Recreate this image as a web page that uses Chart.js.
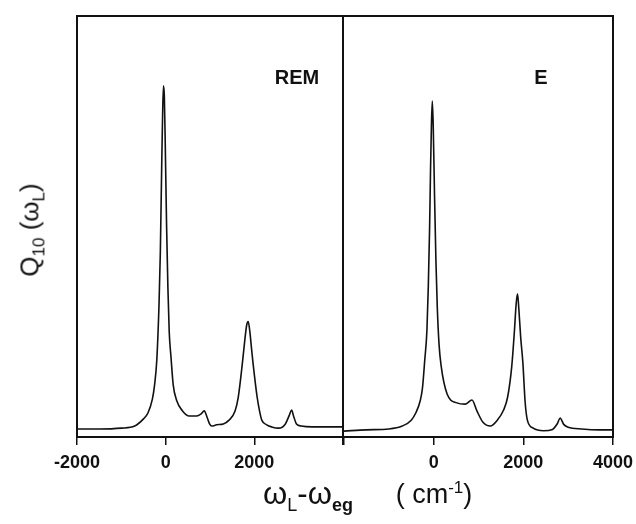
<!DOCTYPE html>
<html>
<head>
    <title>Q10 spectra REM / E</title>
    <meta charset="UTF-8">
    <script src="https://cdn.jsdelivr.net/npm/chart.js@4/dist/chart.umd.min.js"></script>
    <style>
        html, body { margin: 0; background: #fff; overflow: hidden; }
        #wrap { position: relative; width: 636px; height: 524px; overflow: hidden; font-family: 'Liberation Sans', Arial, sans-serif; color: #111; }
        canvas { position: absolute; top: 0; }
        .txt { position: absolute; white-space: nowrap; transform: translate(-50%, -50%); }
    </style>
</head>
<body>
<div id="wrap">
    <canvas id="remChart" width="350" height="524" style="left:0"></canvas>
    <canvas id="eChart" width="310" height="524" style="left:337px"></canvas>
    <div class="txt" style="left:297px;top:77px;font-weight:bold;font-size:20px">REM</div>
    <div class="txt" style="left:541px;top:77px;font-weight:bold;font-size:20px">E</div>
    <div class="txt" style="left:32px;top:230px;font-size:26px;transform:translate(-50%,-50%) rotate(-90deg)">Q<sub style="font-size:17px">10</sub> (ω<sub style="font-size:17px">L</sub>)</div>
    <div class="txt" style="left:308px;top:496px;font-size:31px">ω<sub style="font-size:18px">L</sub>-ω<sub style="font-size:18px;font-weight:bold">eg</sub></div>
    <div class="txt" style="left:434px;top:494px;font-size:27px">( cm<sup style="font-size:17px">-1</sup>)</div>
</div>
<script>
    // x in cm-1, y in arbitrary units (0..100 = full frame height)
    const tickValues = [-2000, 0, 2000, 4000];
    const remTickLabels = ['-2000', '0', '2000', ''];
    const eTickLabels = ['', '0', '2000', '4000'];

    const remX = [-2000, -1500, -1000, -700, -500, -400, -300, -250, -200, -150,
        -120, -90, -70, -50, -30, -10, 20, 50, 80, 120,
        170, 250, 380, 530, 700, 800, 870, 930, 990, 1040,
        1150, 1300, 1430, 1565, 1638, 1728, 1788, 1828, 1862, 1900,
        1933, 1973, 2063, 2123, 2168, 2280, 2391, 2550, 2700, 2790,
        2840, 2890, 2950, 3060, 3300, 3600, 4000];
    const remY = [1.9, 1.9, 2.1, 2.6, 4.3, 5.7, 9.0, 12.4, 18.3, 31.4,
        44, 64, 76, 83.4, 81, 70, 50.6, 35.6, 25, 19,
        12.4, 8.6, 6.2, 5.0, 5.0, 5.5, 6.2, 4.8, 3.1, 2.6,
        2.9, 3.1, 4.0, 6.2, 9.5, 17.3, 23.3, 26.6, 27.4, 24.9,
        21.4, 17.3, 9.5, 5.9, 4.0, 2.9, 2.4, 2.1, 3.1, 5.2,
        6.4, 4.8, 3.1, 2.6, 2.4, 2.4, 2.4];

    const eX = [-2000, -1500, -1000, -700, -500, -400, -300, -250, -200, -150,
        -120, -90, -70, -50, -30, -10, 20, 50, 80, 120,
        165, 300, 520, 700, 855, 965, 1100, 1265, 1420, 1560,
        1650, 1740, 1800, 1840, 1870, 1900, 1940, 1990, 2040, 2090,
        2220, 2450, 2650, 2760, 2820, 2900, 3000, 3300, 3700, 4000];
    const eY = [1.4, 1.7, 1.9, 2.6, 4.0, 5.7, 8.6, 11.6, 18.1, 25.4,
        35.6, 50, 63.4, 74, 79.8, 74, 57, 42, 31, 22,
        17, 10.2, 8.1, 7.8, 8.8, 6.2, 3.5, 2.6, 4.0, 6.4,
        9.5, 16.6, 25, 31.6, 34, 30.4, 23.8, 17.6, 8.3, 4.0,
        2.1, 1.5, 1.8, 3.2, 4.5, 3.0, 2.3, 1.9, 1.7, 1.7];

    // draws the black box round the plot area (left side optional)
    const frame = {
        id: 'frame',
        afterDraw(chart, args, opts) {
            const a = chart.chartArea;
            const c = chart.ctx;
            c.save();
            c.strokeStyle = '#111';
            c.lineWidth = 2;
            c.beginPath();
            c.moveTo(a.left, a.bottom);
            if (opts.left !== false) c.lineTo(a.left, a.top); else c.moveTo(a.left, a.top);
            c.lineTo(a.right, a.top);
            c.lineTo(a.right, a.bottom);
            c.lineTo(a.left, a.bottom);
            c.stroke();
            c.restore();
        }
    };

    function makeChart(id, xs, ys, labels, pad, drawLeft) {
        const pts = xs.map((x, i) => ({x: x, y: ys[i]}));
        return new Chart(document.getElementById(id), {
            type: 'line',
            data: {
                datasets: [{
                    data: pts,
                    borderColor: '#111',
                    borderWidth: 1.6,
                    pointRadius: 0,
                    cubicInterpolationMode: 'monotone',
                    fill: false
                }]
            },
            options: {
                responsive: false,
                animation: false,
                layout: {padding: pad},
                plugins: {legend: {display: false}, tooltip: {enabled: false}, frame: {left: drawLeft}},
                scales: {
                    x: {
                        type: 'linear',
                        min: -2000,
                        max: 4000,
                        afterBuildTicks: s => { s.ticks = tickValues.map(v => ({value: v})); },
                        afterFit: s => { s.height = 87; },
                        grid: {drawOnChartArea: false, drawTicks: true, tickLength: 8, color: '#111', lineWidth: 1.5},
                        border: {display: false},
                        ticks: {
                            autoSkip: false,
                            maxRotation: 0,
                            padding: 7,
                            color: '#111',
                            font: {family: 'Liberation Sans', size: 18, weight: 'bold'},
                            callback: (v) => labels[tickValues.indexOf(v)]
                        }
                    },
                    y: {display: false, min: 0, max: 100}
                }
            },
            plugins: [frame]
        });
    }

    const remChart = makeChart('remChart', remX, remY, remTickLabels, {left: 77, right: 6, top: 16, bottom: 0}, true);
    const eChart = makeChart('eChart', eX, eY, eTickLabels, {left: 1, right: 34, top: 16, bottom: 0}, false);
</script>
</body>
</html>
